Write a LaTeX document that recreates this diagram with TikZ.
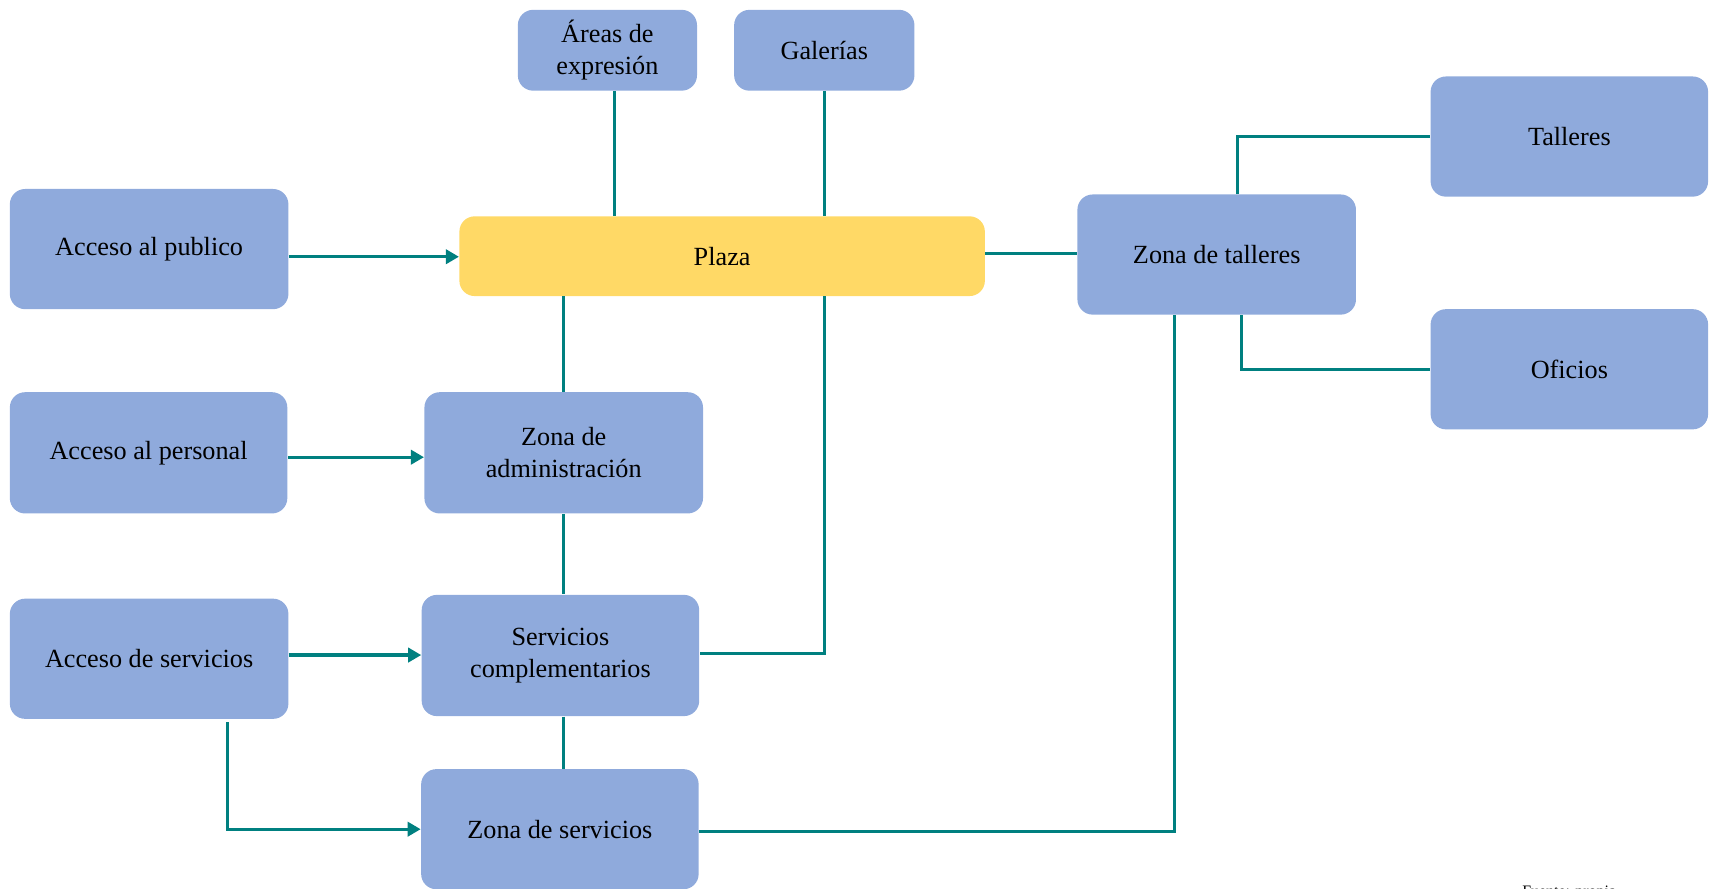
\documentclass[tikz,border=0pt]{standalone}
\usepackage{fontspec}
\setmainfont{Liberation Serif}
\usetikzlibrary{arrows.meta}
\definecolor{boxblue}{HTML}{8FAADC}
\definecolor{plazayellow}{HTML}{FFD966}
\definecolor{teal}{HTML}{008080}
\tikzset{
  bluebox/.style={fill=boxblue, rounded corners=7pt, inner sep=0pt, align=center,
    font=\fontsize{12pt}{14.5pt}\selectfont, text=black},
  yellowbox/.style={fill=plazayellow, rounded corners=7pt, inner sep=0pt, align=center,
    font=\fontsize{12pt}{14.5pt}\selectfont, text=black},
  conn/.style={draw=teal, line width=1.2pt},
  arr/.style={draw=teal, line width=1.5pt, -{Triangle[length=6pt,width=6.5pt]}},
}
\begin{document}
\begin{tikzpicture}[x=0.5pt, y=-0.5pt]
\useasboundingbox (0,0) rectangle (1568,813);
% nodes
\node[bluebox, minimum width=82pt, minimum height=37pt] (areas) at (556,46) {Áreas de\\expresión};
\node[bluebox, minimum width=82.5pt, minimum height=37pt] (gal) at (754.5,46) {Galerías};
\node[bluebox, minimum width=127pt, minimum height=55pt] (tall) at (1436.5,125) {Talleres};
\node[bluebox, minimum width=127.5pt, minimum height=55pt] (pub) at (136.5,228) {Acceso al publico};
\node[yellowbox, minimum width=240.5pt, minimum height=36.5pt] (plaza) at (661,234.5) {Plaza};
\node[bluebox, minimum width=127.5pt, minimum height=55pt] (zt) at (1113.7,233) {Zona de talleres};
\node[bluebox, minimum width=127pt, minimum height=55pt] (of) at (1436.5,338) {Oficios};
\node[bluebox, minimum width=127pt, minimum height=55.5pt] (per) at (136,414.5) {Acceso al personal};
\node[bluebox, minimum width=127.5pt, minimum height=55.5pt] (adm) at (516,414.5) {Zona de\\administración};
\node[bluebox, minimum width=127.5pt, minimum height=55pt] (acs) at (136.5,603) {Acceso de servicios};
\node[bluebox, minimum width=127pt, minimum height=55.5pt] (sc) at (513,600) {Servicios\\complementarios};
\node[bluebox, minimum width=127pt, minimum height=55pt] (zs) at (512.5,759) {Zona de servicios};
\node[anchor=base west, inner sep=0pt, font=\fontsize{7.3pt}{8pt}\selectfont] (fuente) at (1393,820.4) {Fuente: propia};
% connectors
\draw[arr] ([yshift=-3.5pt]pub.east) -- ([yshift=-3.5pt]pub.east -| plaza.west);
\draw[conn] ([xshift=3.3pt]areas.south) -- ([xshift=3.3pt]areas.south |- plaza.north);
\draw[conn] (gal.south) -- (gal.south |- plaza.north);
\draw[conn] ([yshift=1.25pt]plaza.east) -- ([yshift=1.25pt]plaza.east -| zt.west);
\draw[conn] ([xshift=9.45pt]zt.north) |- (tall.west);
\draw[conn] ([xshift=11.35pt]zt.south) |- (of.west);
\draw[conn] (adm.north) -- (adm.north |- plaza.south);
\draw[conn] (adm.south) -- (adm.south |- sc.north);
\draw[conn] (adm.south |- sc.south) -- (adm.south |- zs.north);
\draw[conn] (gal.south |- plaza.south) |- ([yshift=1pt]sc.east);
\draw[arr] ([yshift=-2pt]per.east) -- ([yshift=-2pt]per.east -| adm.west);
\draw[arr] ([yshift=1.7pt]acs.east) -- ([yshift=1.7pt]acs.east -| sc.west);
\draw[arr] ([xshift=35.75pt,yshift=-1.3pt]acs.south) |- (zs.west);
\draw[conn] ([yshift=-1pt]zs.east) -| ([xshift=-19.35pt]zt.south);
\end{tikzpicture}
\end{document}
